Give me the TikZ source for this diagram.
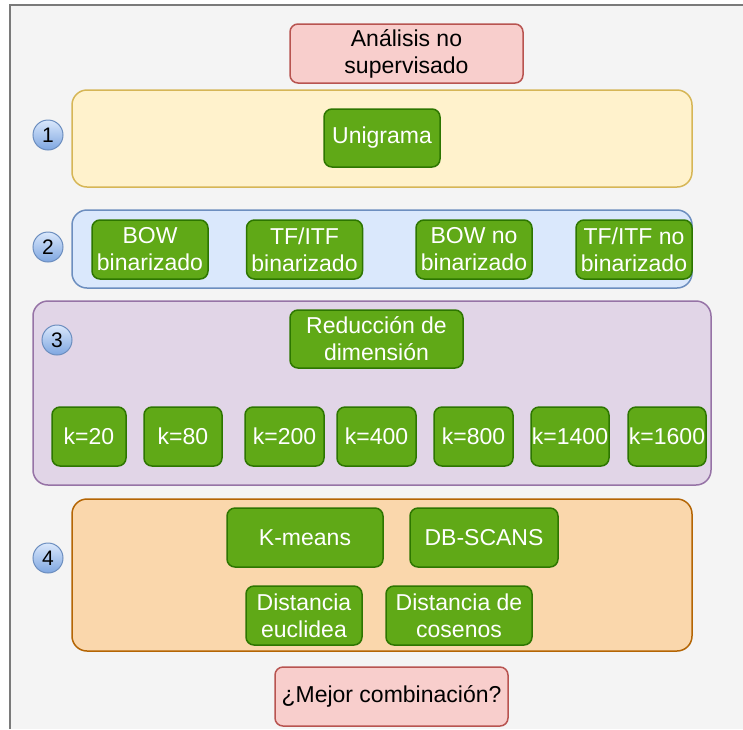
\documentclass[tikz,border=0pt]{standalone}
\usepackage{fontspec}
\setmainfont{Liberation Sans}
\usetikzlibrary{positioning,calc,shadings}

\definecolor{pagebg}{HTML}{F4F4F4}
\definecolor{framec}{HTML}{7A7A7A}
\definecolor{redfill}{HTML}{F8CECC}
\definecolor{redline}{HTML}{B85450}
\definecolor{yelfill}{HTML}{FFF2CC}
\definecolor{yelline}{HTML}{D6B656}
\definecolor{bluefill}{HTML}{DAE8FC}
\definecolor{blueline}{HTML}{6C8EBF}
\definecolor{bluedark}{HTML}{7EA6E0}
\definecolor{purfill}{HTML}{E1D5E7}
\definecolor{purline}{HTML}{9673A6}
\definecolor{orfill}{HTML}{FAD7AC}
\definecolor{orline}{HTML}{B46504}
\definecolor{grfill}{HTML}{60A917}
\definecolor{grline}{HTML}{2D7600}

\tikzset{
  txt/.style={font=\fontsize{23}{27}\selectfont, align=center, inner sep=0pt},
  group/.style={draw, line width=1.5pt, rounded corners=15pt, inner sep=0pt},
  gbox/.style={txt, draw=grline, fill=grfill, text=white, line width=1.5pt,
    rounded corners=8pt, minimum height=58pt},
  rbox/.style={txt, draw=redline, fill=redfill, text=black, line width=1.5pt,
    rounded corners=8pt, minimum height=58pt},
  stepnum/.style={circle, draw=blueline, line width=1pt, minimum size=30pt,
    inner sep=0pt, top color=bluefill, bottom color=bluedark,
    font=\fontsize{21}{21}\selectfont},
}

\begin{document}
\begin{tikzpicture}[x=1pt, y=-1pt]
  \useasboundingbox (0,0) rectangle (743,729);
  % page frame
  \fill[pagebg] (10,5) rectangle (743,729);
  \draw[framec, line width=2pt] (743,5) -- (10,5) -- (10,729);

  % title
  \node[rbox, minimum width=233pt, minimum height=59pt] (title) at (406.5,53.5) {Análisis no\\supervisado};

  % step 1
  \node[group, draw=yelline, fill=yelfill, minimum width=620pt, minimum height=97pt] (grp1) at (382,138.5) {};
  \node[stepnum] (n1) at (48,135) {1};
  \node[gbox, minimum width=116pt] (uni) at (382,138) {Unigrama};

  % step 2
  \node[group, draw=blueline, fill=bluefill, minimum width=620pt, minimum height=78pt] (grp2) at (382,249) {};
  \node[stepnum] (n2) at (48,247) {2};
  \node[gbox, minimum width=116pt, minimum height=59pt] (bowb) at (150,249.5) {BOW\\binarizado};
  \node[gbox, minimum width=116pt, minimum height=59pt] (tfb) at (304.5,249.5) {TF/ITF\\binarizado};
  \node[gbox, minimum width=116pt, minimum height=59pt] (bown) at (474,249.5) {BOW no\\binarizado};
  \node[gbox, minimum width=116pt, minimum height=59pt] (tfn) at (634,249.5) {TF/ITF no\\binarizado};

  % step 3
  \node[group, draw=purline, fill=purfill, minimum width=678pt, minimum height=184pt] (grp3) at (372,393) {};
  \node[stepnum] (n3) at (57,340) {3};
  \node[gbox, minimum width=173pt] (red) at (376.5,339) {Reducción de\\dimensión};
  \foreach \k/\cx/\w in {20/89/74, 80/183/78, 200/284.5/79, 400/376.5/79,
                         800/473.5/79, 1400/570/78, 1600/667/78}
    \node[gbox, minimum width=\w pt, minimum height=59pt] (k\k) at (\cx,436.5) {k=\k};

  % step 4
  \node[group, draw=orline, fill=orfill, minimum width=620pt, minimum height=152pt] (grp4) at (382,575) {};
  \node[stepnum] (n4) at (48,558) {4};
  \node[gbox, minimum width=156pt, minimum height=59pt] (km) at (305,537.5) {K-means};
  \node[gbox, minimum width=148pt, minimum height=59pt] (db) at (484,537.5) {DB-SCANS};
  \node[gbox, minimum width=116pt, minimum height=59pt] (deuc) at (304,615.5) {Distancia\\euclidea};
  \node[gbox, minimum width=146pt, minimum height=59pt] (dcos) at (459,615.5) {Distancia de\\cosenos};

  % result
  \node[rbox, minimum width=233pt, minimum height=59pt] (best) at (391.5,696.5) {¿Mejor combinación?};
\end{tikzpicture}
\end{document}
